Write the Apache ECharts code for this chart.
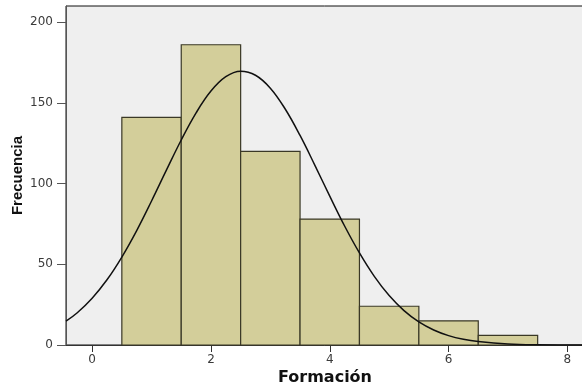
<!DOCTYPE html>
<html>
<head>
<meta charset="utf-8">
<script src="https://cdn.jsdelivr.net/npm/echarts@6/dist/echarts.min.js"></script>
<style>html,body{margin:0;padding:0;background:#fff}#c{width:582px;height:387px}</style>
</head>
<body>
<div id="c"></div>
<script>
// Histogram bins (centre of each bin) and frequencies
var binCenters = [1, 2, 3, 4, 5, 6, 7];
var frequencies = [141, 186, 120, 78, 24, 15, 6];
// Normal curve (x, frecuencia)
var curveX = [-0.44, -0.25, 0, 0.25, 0.5, 0.75, 1, 1.25, 1.5, 1.75, 2, 2.25, 2.5, 2.75, 3, 3.25, 3.5, 3.75, 4, 4.25, 4.5, 4.75, 5, 5.25, 5.5, 5.75, 6, 6.25, 6.5, 7, 7.5, 8, 8.28];
var curveY = [14.8, 20, 29, 40.4, 54.5, 70.9, 89.2, 108.3, 127, 143.8, 157.3, 166.2, 169.6, 167.1, 159.1, 146.2, 129.8, 111.3, 92.2, 73.7, 57, 42.5, 30.6, 21.3, 14.3, 9.3, 5.8, 3.5, 2.1, 0.6, 0.1, 0, 0];
var xTicks = [0, 2, 4, 6, 8];
var yTicks = [0, 50, 100, 150, 200];

var chart = echarts.init(document.getElementById('c'), null, {renderer: 'canvas'});
var barData = binCenters.map(function (c, i) { return [c, frequencies[i]]; });
var curveData = curveX.map(function (x, i) { return [x, curveY[i]]; });
var tickFont = {color: '#3a3a3a', fontFamily: 'DejaVu Sans', fontSize: 12};

chart.setOption({
  animation: false,
  grid: {left: 66, top: 6, right: -2, bottom: 42, show: true, backgroundColor: '#EFEFEF',
         borderColor: '#111', borderWidth: 1, containLabel: false, outerBoundsMode: 'none'},
  xAxis: {
    type: 'value', min: -0.44, max: 8.28,
    name: 'Formación', nameLocation: 'middle', nameGap: 25, nameMoveOverlap: false,
    nameTextStyle: {fontFamily: 'DejaVu Sans', fontWeight: 'bold', fontSize: 16, color: '#111'},
    axisLine: {show: true, onZero: false, lineStyle: {color: '#333', width: 1}},
    axisTick: {show: true, length: 7, customValues: xTicks, lineStyle: {color: '#333'}},
    axisLabel: Object.assign({customValues: xTicks, margin: 9}, tickFont),
    splitLine: {show: false}
  },
  yAxis: {
    type: 'value', min: 0, max: 210,
    name: 'Frecuencia', nameLocation: 'middle', nameGap: 41, nameRotate: 90, nameMoveOverlap: false,
    nameTextStyle: {fontFamily: 'Liberation Sans Narrow, Liberation Sans', fontWeight: 'bold', fontSize: 15, color: '#111'},
    axisLine: {show: true, onZero: false, lineStyle: {color: '#555', width: 1}},
    axisTick: {show: true, length: 9, customValues: yTicks, lineStyle: {color: '#555'}},
    axisLabel: Object.assign({customValues: yTicks, margin: 13}, tickFont),
    splitLine: {show: false}
  },
  series: [
    {
      type: 'custom',
      data: barData,
      renderItem: function (params, api) {
        var c = api.value(0), v = api.value(1);
        var p1 = api.coord([c - 0.5, v]);
        var p2 = api.coord([c + 0.5, 0]);
        return {
          type: 'rect',
          shape: {x: p1[0], y: p1[1], width: p2[0] - p1[0], height: p2[1] - p1[1]},
          style: {fill: '#D3CE9A', stroke: '#3a3826', lineWidth: 1.2}
        };
      },
      encode: {x: 0, y: 1}
    },
    {
      type: 'line',
      data: curveData,
      smooth: 0.4,
      showSymbol: false,
      symbol: 'none',
      lineStyle: {color: '#111', width: 1.5},
      z: 5
    }
  ]
});
</script>
</body>
</html>
